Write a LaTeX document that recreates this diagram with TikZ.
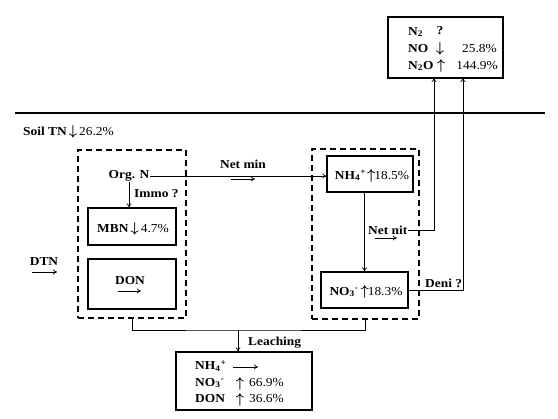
\documentclass[tikz,border=0pt]{standalone}
\usepackage{fontspec}
\setmainfont[FakeStretch=1.1]{Liberation Serif}
\usetikzlibrary{arrows.meta}
\usepackage{amsmath}
\newcommand{\dnar}{\raisebox{-0.5pt}{\fontsize{14}{14}\selectfont$\boldsymbol{\downarrow}$}}
\newcommand{\upar}{\raisebox{-0.5pt}{\fontsize{14}{14}\selectfont$\boldsymbol{\uparrow}$}}
\begin{document}
\begin{tikzpicture}[x=1pt,y=-1pt,
  every node/.style={font=\fontsize{12.2}{14}\selectfont, inner sep=0pt},
  box/.style={draw, line width=1.2pt},
  dbox/.style={draw, line width=1.2pt, dash pattern=on 6pt off 4pt},
  arr/.style={-{To[length=4pt,width=5pt]}, line width=0.7pt},
  ln/.style={line width=0.7pt}]
\useasboundingbox (0,0) rectangle (558,419);
% top box
\node[box, minimum width=115pt, minimum height=61pt] (top) at (445.5,47.5) {};
\node[anchor=west] (n2) at (408,32) {\textbf{N\textsubscript{2}}};
\node (q) at (440,31) {\textbf{?}};
\node[anchor=west] (no) at (408,49) {\textbf{NO}};
\node (noar) at (440,49) {\dnar};
\node[anchor=east] (nop) at (497,49) {25.8\%};
\node[anchor=west] (n2o) at (408,66) {\textbf{N\textsubscript{2}O}};
\node (n2oar) at (441,66) {\upar};
\node[anchor=east] (n2op) at (498,66) {144.9\%};
% horizon line
\coordinate (h1) at (15,113);
\coordinate (h2) at (545,113);
\draw[line width=2.4pt] (h1) -- (h2);
\node[anchor=west] (stn) at (23,132) {\textbf{Soil TN}\,\dnar\,26.2\%};
% left dashed box
\node[dbox, minimum width=108pt, minimum height=168pt] (L) at (132,234) {};
\node (org) at (129,176) {\textbf{Org. N}};
\node[box, minimum width=88pt, minimum height=37pt] (mbn) at (132,226.5) {};
\node (mbnt) at (133,229) {\textbf{MBN}\,\dnar\,4.7\%};
\node[anchor=west] (immo) at (134,194) {\textbf{Immo ?}};
\node[box, minimum width=88pt, minimum height=50pt] (don) at (132,284) {};
\node (dont) at (130,281) {\textbf{DON}};
\draw[arr] ([xshift=-12pt,yshift=-10pt]dont.center) -- ++(23,0);
\node (dtn) at (44,262) {\textbf{DTN}};
\draw[arr] ([xshift=-12pt,yshift=-10pt]dtn.center) -- ++(25,0);
% right dashed box
\node[dbox, minimum width=107pt, minimum height=170pt] (R) at (365.5,234) {};
\node[box, minimum width=86pt, minimum height=36pt] (nh4) at (370,174) {};
\node (nh4t) at (372,176) {\textbf{NH\textsubscript{4}\textsuperscript{+}}\kern1pt\upar\kern-1pt18.5\%};
\node[box, minimum width=87pt, minimum height=36pt] (no3) at (364.5,290) {};
\node (no3t) at (366,292) {\textbf{NO\textsubscript{3}\textsuperscript{-}}\,\upar\kern-1pt18.3\%};
% net min
\draw[arr] (org.east) -- (org.east -| nh4.west);
\node (netmin) at (243,164) {\textbf{Net min}};
\draw[arr] ([xshift=-12pt,yshift=-15pt]netmin.center) -- ++(24,0);
% immo
\draw[arr] (org.south) -- (org.south |- mbn.north);
% nitrification
\draw[arr] (no3.north |- nh4.south) -- (no3.north);
\node[anchor=west] (nn) at (368,230) {\textbf{Net nit}};
\draw[arr] ([xshift=-13pt,yshift=-8pt]nn.center) -- ++(22,0);
\coordinate (t1) at (434,78);
\draw[arr] (nn.east) -| (t1);
% denitrification
\coordinate (t2) at (463,78);
\draw[arr] (no3.east) -| (t2);
\node[anchor=south west] (deni) at (425,288) {\textbf{Deni ?}};
% leaching
\node[box, minimum width=136pt, minimum height=58pt] (bot) at (244,381) {};
\coordinate (lj) at (238,330);
\draw[ln] (L.south) |- (lj) -| (R.south);
\draw[arr] (lj) -- (lj |- bot.north);
\node[anchor=west] (leach) at (248,343) {\textbf{Leaching}};
\node[anchor=west] (bnh4) at (195,366) {\textbf{NH\textsubscript{4}\textsuperscript{+}}};
\draw[arr] (233,367) -- (258,367);
\node[anchor=west] (bno3) at (195,383) {\textbf{NO\textsubscript{3}\textsuperscript{-}}};
\node (bno3a) at (240,384) {\upar};
\node[anchor=west] (bno3p) at (249,383) {66.9\%};
\node[anchor=west] (bdon) at (195,399) {\textbf{DON}};
\node (bdona) at (240,400) {\upar};
\node[anchor=west] (bdonp) at (249,399) {36.6\%};
\end{tikzpicture}
\end{document}
